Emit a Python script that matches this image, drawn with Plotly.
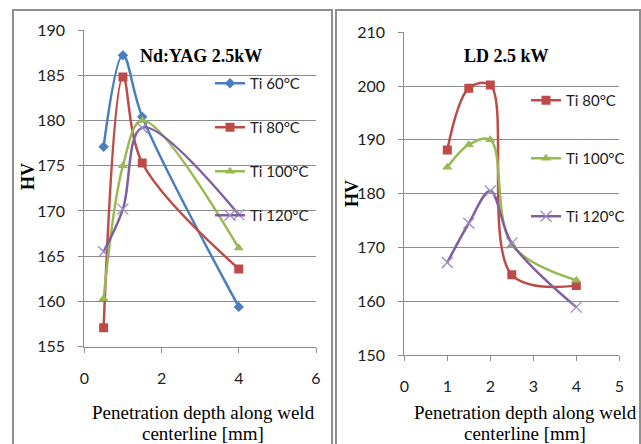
import plotly.graph_objects as go

W, H = 641, 444

# ---- data: Nd:YAG 2.5kW (left) ----
depth_yag = [0.5, 1.0, 1.5, 4.0]
hv_yag_60 = [177.1, 187.2, 180.4, 159.4]
hv_yag_80 = [157.1, 184.8, 175.3, 163.6]
hv_yag_100 = [160.3, 175.0, 180.0, 165.9]
hv_yag_120 = [165.5, 170.2, 179.2, 169.6]

# ---- data: LD 2.5 kW (right) ----
depth_ld = [1.0, 1.5, 2.0, 2.5, 4.0]
hv_ld_80 = [188.1, 199.6, 200.2, 164.9, 162.9]
hv_ld_100 = [184.9, 189.1, 190.0, 170.5, 163.9]
hv_ld_120 = [167.2, 174.5, 180.5, 170.8, 158.9]

series_names = ["Ti 60°C", "Ti 80°C", "Ti 100°C", "Ti 120°C"]

BLUE, RED, GREEN, PURPLE = "#4A7EBB", "#BE4B48", "#98B954", "#7D60A0"
XPURPLE = "#9C8CC4"

TICKFONT = dict(family="Lato, Carlito, Calibri, sans-serif", size=16, color="#222222")
LEGFONT = dict(family="Lato, Carlito, Calibri, sans-serif", size=15, color="#222222")
SERIF = "Liberation Serif, Times New Roman, serif"

fig = go.Figure()

def add(x, y, name, color, symbol, msize, xa, ya, leg, mcolor=None, mline=0):
    fig.add_trace(go.Scatter(
        x=x, y=y, name=name, mode="lines+markers",
        line=dict(color=color, width=2.5, shape="spline", smoothing=1.0),
        marker=dict(symbol=symbol, size=msize, color=mcolor or color,
                    line=dict(color=mcolor or color, width=mline)),
        xaxis=xa, yaxis=ya, legend=leg, legendgroup=name + leg,
    ))

add(depth_yag, hv_yag_60, series_names[0], BLUE, "diamond", 8, "x", "y", "legend")
add(depth_yag, hv_yag_80, series_names[1], RED, "square", 9, "x", "y", "legend")
add(depth_yag, hv_yag_100, series_names[2], GREEN, "triangle-up", 9, "x", "y", "legend")
add(depth_yag, hv_yag_120, series_names[3], PURPLE, "x-thin-open", 11, "x", "y", "legend", XPURPLE, 1.3)

add(depth_ld, hv_ld_80, series_names[1], RED, "square", 9, "x2", "y2", "legend2")
add(depth_ld, hv_ld_100, series_names[2], GREEN, "triangle-up", 9, "x2", "y2", "legend2")
add(depth_ld, hv_ld_120, series_names[3], PURPLE, "x-thin-open", 11, "x2", "y2", "legend2", XPURPLE, 1.3)

def px_x(p):
    return p / W

def px_y(p):
    return 1 - p / H

axis_common = dict(showline=True, linecolor="#8C8C8C", linewidth=1, ticks="outside",
                   ticklen=5, tickcolor="#8C8C8C", tickfont=TICKFONT, zeroline=False,
                   automargin=False)

fig.update_layout(
    width=W, height=H, margin=dict(l=0, r=0, t=0, b=0, autoexpand=False),
    paper_bgcolor="white", plot_bgcolor="white", showlegend=True,
    xaxis=dict(domain=[px_x(84.3), px_x(316)], range=[0, 6], dtick=2, tick0=0,
               showgrid=False, anchor="y", ticklabelstandoff=12, **axis_common),
    yaxis=dict(domain=[px_y(346.7), px_y(30)], range=[155, 190], dtick=5, tick0=155,
               showgrid=True, gridcolor="#8C8C8C", gridwidth=1, anchor="x",
               ticklabelstandoff=10, **axis_common),
    xaxis2=dict(domain=[px_x(404.3), px_x(619.3)], range=[0, 5], dtick=1, tick0=0,
                showgrid=False, anchor="y2", ticklabelstandoff=12, **axis_common),
    yaxis2=dict(domain=[px_y(355), px_y(32.3)], range=[150, 210], dtick=10, tick0=150,
                showgrid=True, gridcolor="#8C8C8C", gridwidth=1, anchor="x2",
                ticklabelstandoff=10, **axis_common),
    legend=dict(x=px_x(210), y=px_y(67), xanchor="left", yanchor="top",
                bgcolor="rgba(0,0,0,0)", font=LEGFONT, traceorder="grouped",
                tracegroupgap=21.5, itemwidth=30),
    legend2=dict(x=px_x(526), y=px_y(84), xanchor="left", yanchor="top",
                 bgcolor="rgba(0,0,0,0)", font=LEGFONT, traceorder="grouped",
                 tracegroupgap=35.5, itemwidth=30),
)

# chart frames
frame = dict(type="rect", xref="paper", yref="paper", line=dict(color="#8F8F8F", width=2),
             fillcolor="rgba(0,0,0,0)", layer="below")
fig.add_shape(x0=px_x(13), x1=px_x(332), y0=px_y(470), y1=px_y(10), **frame)
fig.add_shape(x0=px_x(336), x1=px_x(640), y0=px_y(470), y1=px_y(10), **frame)

def ann(text, x, y, size, bold=False, angle=0):
    fig.add_annotation(text=("<b>%s</b>" % text) if bold else text,
                       x=px_x(x), y=px_y(y), xref="paper", yref="paper",
                       xanchor="center", yanchor="middle", showarrow=False,
                       textangle=angle, font=dict(family=SERIF, size=size, color="black"))

ann("Nd:YAG 2.5kW", 201, 56, 18, bold=True)
ann("LD 2.5 kW", 506, 56, 18, bold=True)
ann("HV", 28, 177, 18, bold=True, angle=-90)
ann("HV", 352, 194, 18, bold=True, angle=-90)
ann("Penetration depth along weld", 203, 412, 19)
ann("centerline [mm]", 203, 433, 19)
ann("Penetration depth along weld", 525, 412, 19)
ann("centerline [mm]", 525, 433, 19)

fig.write_html("out.html", config={"displayModeBar": False},
               post_script="document.body.style.margin='0px';document.body.style.overflow='hidden';")
